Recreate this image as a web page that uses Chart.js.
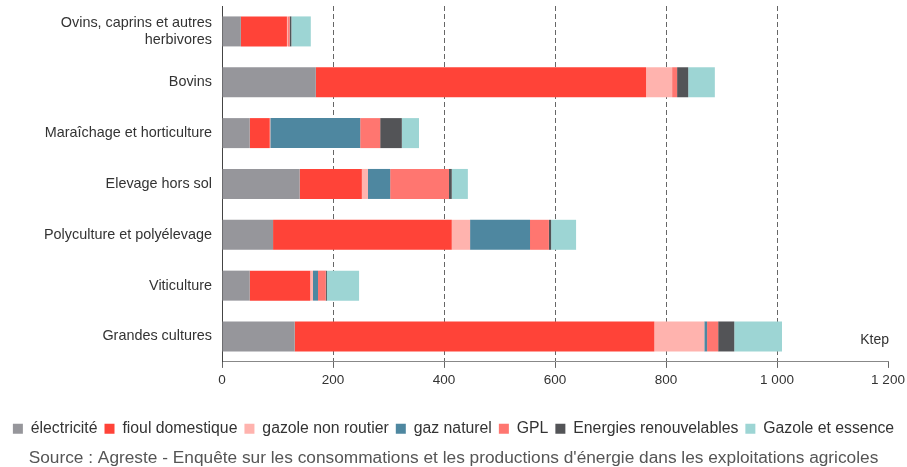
<!DOCTYPE html>
<html>
<head>
<meta charset="utf-8">
<script src="https://cdn.jsdelivr.net/npm/chart.js@4"></script>
<style>
  html, body { margin: 0; padding: 0; background: #fff; }
  #wrap { width: 907px; height: 467px; }
</style>
</head>
<body>
<div id="wrap"><canvas id="myChart" width="907" height="467"></canvas></div>
<script>
const categories = [
    ['Ovins, caprins et autres', 'herbivores'],
    'Bovins',
    'Maraîchage et horticulture',
    'Elevage hors sol',
    'Polyculture et polyélevage',
    'Viticulture',
    'Grandes cultures'
];

// Ktep, per farm type
const electricite     = [34, 169, 50, 140, 92, 50, 131];
const fioulDomestique = [83, 595, 36, 112, 322, 109, 648];
const gazoleNonRoutier = [2, 47, 1, 11, 33, 5, 90];
const gazNaturel      = [0, 0, 162, 40, 108, 9, 5];
const gpl             = [3, 9, 36, 106, 34, 14, 20];
const renouvelables   = [3, 20, 39, 5, 4, 2, 29];
const gazoleEssence   = [35, 48, 31, 29, 45, 58, 86];

const xTicks = [0, 200, 400, 600, 800, 1000, 1200];

const font = "'Liberation Sans', Arial, sans-serif";

const series = [
    { label: 'électricité', data: electricite, color: 'rgb(150,150,155)' },
    { label: 'fioul domestique', data: fioulDomestique, color: 'rgb(255,67,56)' },
    { label: 'gazole non routier', data: gazoleNonRoutier, color: 'rgb(255,179,174)' },
    { label: 'gaz naturel', data: gazNaturel, color: 'rgb(78,135,160)' },
    { label: 'GPL', data: gpl, color: 'rgb(255,118,112)' },
    { label: 'Energies renouvelables', data: renouvelables, color: 'rgb(83,84,87)' },
    { label: 'Gazole et essence', data: gazoleEssence, color: 'rgb(157,213,212)' }
];

const datasets = series.map(s => ({
    label: s.label,
    data: s.data,
    backgroundColor: s.color,
    borderWidth: 0,
    barPercentage: 0.59,
    categoryPercentage: 1.0
}));

// "Ktep" unit label near the end of the x axis
const unitLabel = {
    id: 'unitLabel',
    afterDraw(chart) {
        const ctx = chart.ctx;
        const area = chart.chartArea;
        ctx.save();
        ctx.font = '14px ' + font;
        ctx.fillStyle = '#333';
        ctx.textAlign = 'right';
        ctx.textBaseline = 'middle';
        ctx.fillText('Ktep', area.right + 1, area.bottom - 22);
        ctx.restore();
    }
};

function fmt(v) {
    return String(v).replace(/\B(?=(\d{3})+(?!\d))/g, ' ');
}

new Chart(document.getElementById('myChart').getContext('2d'), {
    type: 'bar',
    data: { labels: categories, datasets: datasets },
    plugins: [unitLabel],
    options: {
        indexAxis: 'y',
        responsive: false,
        animation: false,
        layout: { padding: { top: 6, right: 0, left: 0, bottom: 0 } },
        scales: {
            x: {
                stacked: true,
                min: 0,
                max: 1200,
                afterBuildTicks(scale) {
                    scale.ticks = xTicks.map(v => ({ value: v }));
                },
                afterFit(scale) {
                    scale.height = 52;
                    scale.paddingRight = 19;
                },
                ticks: {
                    color: '#333',
                    font: { family: font, size: 13.5 },
                    padding: 4,
                    callback: v => fmt(v)
                },
                grid: {
                    color: ctx => (ctx.tick && (ctx.tick.value === 0 || ctx.tick.value === 1200)) ? 'rgba(0,0,0,0)' : '#666',
                    tickColor: '#666',
                    tickBorderDash: [],
                    tickLength: 6,
                    lineWidth: 1
                },
                border: { display: true, color: '#888', width: 1, dash: [5, 3] }
            },
            y: {
                stacked: true,
                afterFit(scale) {
                    scale.width = 222;
                    scale.paddingTop = 0;
                    scale.paddingBottom = 0;
                },
                ticks: {
                    color: '#333',
                    font: { family: font, size: 14.4 },
                    padding: 10
                },
                grid: { display: false, drawTicks: false },
                border: { display: true, color: '#444', width: 1 }
            }
        },
        plugins: {
            legend: {
                position: 'bottom',
                labels: {
                    font: { family: font, size: 15.8 },
                    color: '#333',
                    boxWidth: 10,
                    boxHeight: 10,
                    padding: 7
                }
            },
            title: {
                display: true,
                position: 'bottom',
                text: "Source : Agreste - Enquête sur les consommations et les productions d'énergie dans les exploitations agricoles",
                color: '#555',
                font: { family: font, size: 17.3, weight: 'normal', lineHeight: 1 },
                padding: { top: 3, bottom: 0 }
            },
            tooltip: { enabled: false }
        }
    }
});
</script>
</body>
</html>
